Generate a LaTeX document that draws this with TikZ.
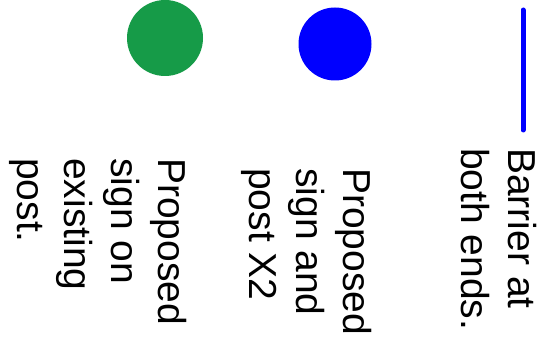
\documentclass[tikz,border=0pt]{standalone}
\usepackage{fontspec}
\setmainfont{Liberation Sans}
\definecolor{signgreen}{RGB}{22,155,72}
\definecolor{signblue}{RGB}{0,0,255}
\begin{document}
\begin{tikzpicture}[x=1pt, y=-1pt,
	swatch/.style = {circle, draw=none, inner sep=0pt, minimum size=75pt},
	legendtext/.style = {rotate=-90, anchor=north west, inner sep=0pt, align=left, font=\fontsize{39}{47}\selectfont}]
	\useasboundingbox (0,0) rectangle (552,350);
	%Symbols
	\node[swatch, fill=signgreen, minimum size=76pt] (green) at (165,38) {};
	\node[swatch, fill=signblue, minimum size=73pt] (blue) at (335,44) {};
	\coordinate (bartop) at (523,10);
	\coordinate (barbot) at (523,130);
	\draw[signblue, line width=5pt, line cap=round] (bartop) -- (barbot); %Barrier line
	
	%Legend texts
	\node[legendtext] (greentext) at (187,158) {Proposed\\sign on\\existing\\post.};
	\node[legendtext] (bluetext) at (372,168) {Proposed\\sign and\\post X2};
	\node[legendtext] (bartext) at (537,148) {Barrier at\\both ends.};
\end{tikzpicture}
\end{document}
